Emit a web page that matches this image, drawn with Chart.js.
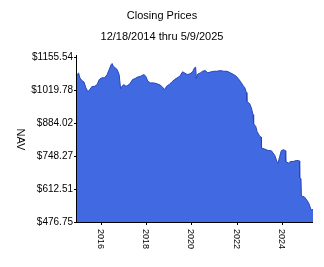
<!DOCTYPE html>
<html>
<head>
<meta charset="utf-8">
<script src="https://cdn.jsdelivr.net/npm/chart.js@4"></script>
<style>
  html, body { margin: 0; padding: 0; background: #fff; }
  #wrap { width: 324px; height: 267px; }
</style>
</head>
<body>
<div id="wrap"><canvas id="chart" width="324" height="267"></canvas></div>
<script>
// values
const dates = [
  '2014-12-18', '2015-01-12', '2015-02-02', '2015-03-07', '2015-04-08', '2015-05-11',
  '2015-06-10', '2015-07-13', '2015-08-14', '2015-09-27', '2015-11-07', '2015-12-10',
  '2016-01-22', '2016-03-06', '2016-04-16', '2016-05-19', '2016-06-20', '2016-07-05',
  '2016-07-23', '2016-08-24', '2016-09-24', '2016-10-26', '2016-11-18', '2016-12-10',
  '2017-01-11', '2017-02-12', '2017-03-15', '2017-04-16', '2017-05-30', '2017-07-09',
  '2017-08-11', '2017-10-05', '2017-11-28', '2017-12-28', '2018-01-30', '2018-03-14',
  '2018-05-07', '2018-06-29', '2018-08-23', '2018-10-04', '2018-10-26', '2018-11-28',
  '2019-01-08', '2019-02-20', '2019-04-04', '2019-05-16', '2019-06-28', '2019-08-11',
  '2019-09-12', '2019-10-25', '2019-12-08', '2020-01-19', '2020-02-20', '2020-03-09',
  '2020-03-20', '2020-04-10', '2020-05-25', '2020-06-27', '2020-08-08', '2020-09-21',
  '2020-11-13', '2020-12-24', '2021-02-16', '2021-04-11', '2021-06-03', '2021-07-26',
  '2021-09-19', '2021-11-10', '2021-12-22', '2022-01-23', '2022-02-25', '2022-04-08',
  '2022-05-10', '2022-06-02', '2022-06-10', '2022-06-12', '2022-07-25', '2022-08-22',
  '2022-09-17', '2022-09-26', '2022-09-28', '2022-10-31', '2022-11-21', '2023-01-04',
  '2023-01-28', '2023-02-01', '2023-03-25', '2023-05-17', '2023-07-10', '2023-09-01',
  '2023-10-08', '2023-10-24', '2023-11-20', '2023-12-17', '2024-01-24', '2024-02-20',
  '2024-02-25', '2024-04-09', '2024-05-11', '2024-06-22', '2024-08-15', '2024-09-16',
  '2024-10-03', '2024-10-07', '2024-10-28', '2024-11-03', '2024-12-22', '2025-01-28',
  '2025-03-02', '2025-04-09', '2025-05-09'
];
const nav = [
  1079.2, 1090.3, 1069.7, 1058.5, 1053.2, 1028.4,
  1013.2, 1021.4, 1033.8, 1035.0, 1042.0, 1062.7,
  1069.7, 1069.7, 1083.3, 1103.9, 1124.6, 1128.7,
  1117.6, 1111.0, 1103.9, 1083.3, 1025.6, 1035.0,
  1042.0, 1035.0, 1039.2, 1045.0, 1062.7, 1066.8,
  1072.2, 1076.3, 1083.3, 1076.3, 1055.7, 1049.0,
  1049.0, 1045.0, 1039.2, 1028.4, 1021.4, 1035.0,
  1042.0, 1053.2, 1062.7, 1069.7, 1076.3, 1094.5,
  1090.3, 1083.3, 1086.2, 1094.5, 1111.0, 1113.4,
  1066.8, 1085.0, 1090.3, 1096.9, 1099.8, 1090.3,
  1094.5, 1096.9, 1096.9, 1099.8, 1096.9, 1096.9,
  1090.3, 1083.3, 1076.3, 1066.8, 1055.7, 1039.2,
  1028.4, 1009.0, 1005.0, 972.0, 963.7, 946.0,
  918.3, 912.0, 881.1, 870.0, 849.4, 828.7,
  826.0, 780.9, 776.7, 771.0, 769.7, 751.2,
  724.3, 719.0, 746.2, 771.0, 773.9, 770.0,
  725.6, 719.0, 725.6, 725.6, 729.7, 729.7,
  728.0, 658.3, 655.0, 584.0, 580.0, 567.5,
  554.0, 526.3, 528.3
];
const yTicks = [476.75, 612.51, 748.27, 884.02, 1019.78, 1155.54];
const xTicks = [2016, 2018, 2020, 2022, 2024];

function decYear(s) {
  const d = new Date(s + 'T00:00:00Z');
  const y = d.getUTCFullYear();
  const start = Date.UTC(y, 0, 1);
  const end = Date.UTC(y + 1, 0, 1);
  return y + (d - start) / (end - start);
}

const points = dates.map((d, i) => ({ x: decYear(d), y: nav[i] }));

const FONT = '"Liberation Sans", Arial, sans-serif';

// axes, ticks and texts drawn the old-fashioned way
const axisPlugin = {
  id: 'axisPlugin',
  afterDraw(chart) {
    const ctx = chart.ctx;
    const a = chart.chartArea;
    const xs = chart.scales.x;
    const ys = chart.scales.y;
    ctx.save();
    ctx.fillStyle = '#000';
    ctx.strokeStyle = '#000';
    ctx.lineWidth = 1;

    // titles
    ctx.font = '11px ' + FONT;
    ctx.textAlign = 'center';
    ctx.textBaseline = 'middle';
    ctx.fillText('Closing Prices', 162, 16);
    ctx.fillText('12/18/2014 thru 5/9/2025', 162, 37);

    // axis lines
    ctx.beginPath();
    ctx.moveTo(Math.round(a.left) - 0.5, a.top - 2);
    ctx.lineTo(Math.round(a.left) - 0.5, Math.round(a.bottom) + 0.5);
    ctx.lineTo(a.right, Math.round(a.bottom) + 0.5);
    ctx.stroke();

    // y ticks
    ctx.font = '10px ' + FONT;
    ctx.textAlign = 'right';
    yTicks.forEach(v => {
      const py = Math.round(ys.getPixelForValue(v)) + 0.5;
      ctx.beginPath();
      ctx.moveTo(a.left - 3, py);
      ctx.lineTo(a.left, py);
      ctx.stroke();
      ctx.fillText('$' + v.toFixed(2), a.left - 4, py);
    });

    // x ticks, text turned clockwise
    ctx.font = '9px ' + FONT;
    xTicks.forEach(t => {
      const px = Math.round(xs.getPixelForValue(t)) + 0.5;
      ctx.beginPath();
      ctx.moveTo(px, a.bottom);
      ctx.lineTo(px, a.bottom + 3);
      ctx.stroke();
      ctx.save();
      ctx.translate(px - 1, a.bottom + 7);
      ctx.rotate(Math.PI / 2);
      ctx.textAlign = 'left';
      ctx.textBaseline = 'middle';
      ctx.fillText(String(t), 0, 0);
      ctx.restore();
    });

    // y axis title
    ctx.save();
    ctx.font = '11px ' + FONT;
    ctx.translate(20, (a.top + a.bottom) / 2);
    ctx.rotate(Math.PI / 2);
    ctx.textAlign = 'center';
    ctx.textBaseline = 'middle';
    ctx.fillText('NAV', 0, 0);
    ctx.restore();

    ctx.restore();
  }
};

const ctx = document.getElementById('chart').getContext('2d');

new Chart(ctx, {
  type: 'line',
  data: {
    datasets: [{
      label: 'NAV',
      data: points,
      fill: 'start',
      backgroundColor: '#4169E1',
      borderColor: '#2746B8',
      borderWidth: 1,
      pointRadius: 0,
      tension: 0
    }]
  },
  options: {
    responsive: false,
    animation: false,
    layout: {
      padding: { left: 77, right: 11, top: 57, bottom: 45 }
    },
    plugins: {
      legend: { display: false },
      tooltip: { enabled: false }
    },
    scales: {
      x: {
        type: 'linear',
        display: false,
        min: decYear('2014-12-18'),
        max: decYear('2025-05-09')
      },
      y: {
        display: false,
        min: 476.75,
        max: 1155.54
      }
    }
  },
  plugins: [axisPlugin]
});
</script>
</body>
</html>
